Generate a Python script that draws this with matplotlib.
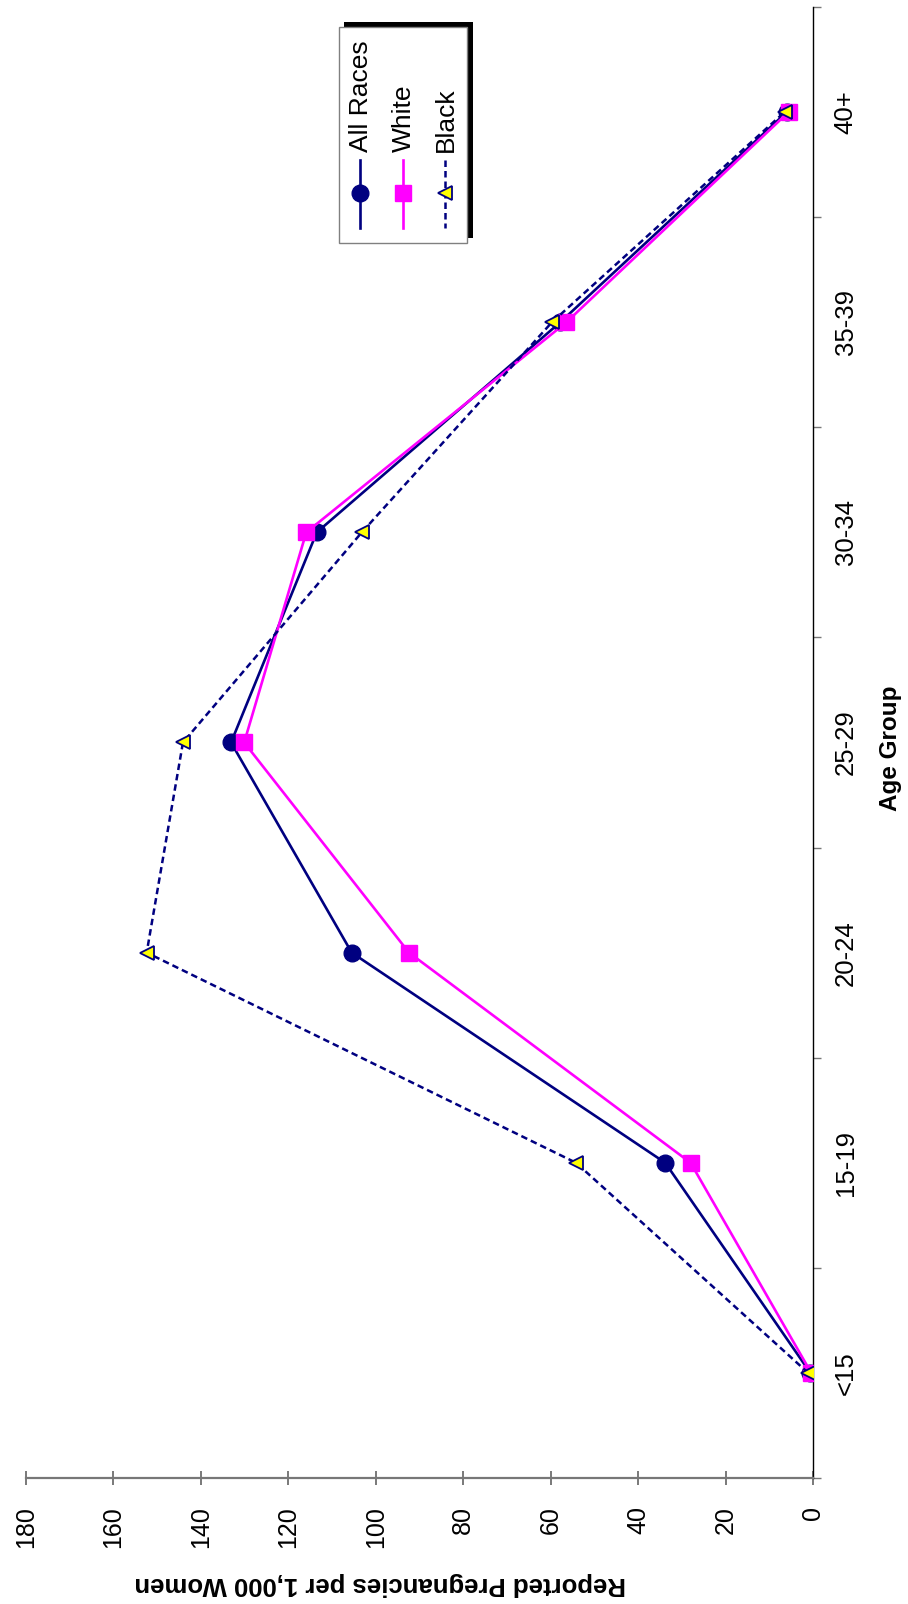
import matplotlib
matplotlib.use("Agg")
import matplotlib.pyplot as plt
from matplotlib.lines import Line2D
from matplotlib.patches import Rectangle

plt.rcParams['font.family'] = ['Liberation Sans', 'DejaVu Sans']

# данные: частота беременностей на 1000 женщин по возрастным группам
age_groups = ['<15', '15-19', '20-24', '25-29', '30-34', '35-39', '40+']
all_races = [0.6, 33.8, 105.5, 133.1, 113.5, 57.8, 6.0]
white = [0.4, 28.0, 92.4, 130.1, 115.9, 56.4, 5.6]
black = [1.1, 54.2, 152.4, 144.1, 103.2, 59.7, 6.5]
value_ticks = list(range(0, 181, 20))

W, H = 908, 1604


def fx(px):
    return px / W


def fy(py):
    return 1 - py / H


fig = plt.figure(figsize=(W / 100, H / 100), dpi=100)
ax = fig.add_axes([fx(26), fy(1478), (813 - 26) / W, (1478 - 7) / H])

pos = list(range(len(age_groups)))
navy = '#000080'
magenta = '#FF00FF'
dash = (0, (2.6, 1.6))

ax.plot(all_races, pos, color=navy, lw=1.9, marker='o', ms=12, mfc=navy, mec=navy, zorder=3)
ax.plot(white, pos, color=magenta, lw=1.9, marker='s', ms=11, mfc=magenta, mec=magenta, zorder=4)
ax.plot(black, pos, color=navy, lw=1.8, ls=dash, marker='<', ms=10,
        mfc='#FFFF00', mec=navy, mew=1.3, zorder=5)

ax.set_xlim(180, 0)
ax.set_ylim(-0.5, len(age_groups) - 0.5)

# оси
for s in ['top', 'left']:
    ax.spines[s].set_visible(False)
ax.spines['right'].set_color('black')
ax.spines['right'].set_linewidth(1.0)
ax.spines['bottom'].set_color('#777777')
ax.spines['bottom'].set_linewidth(1.6)

ax.set_xticks(value_ticks)
ax.set_xticklabels([str(v) for v in value_ticks])
ax.tick_params(axis='x', direction='inout', length=10, width=1.1, color='#555555',
               pad=15, labelsize=18, labelrotation=90)

ax.yaxis.tick_right()
ax.set_yticks(pos)
ax.set_yticklabels(age_groups)
ax.set_yticks([p - 0.5 for p in pos] + [len(pos) - 0.5], minor=True)
ax.tick_params(axis='y', which='major', length=0, pad=15, labelsize=18.5, labelrotation=90)
ax.tick_params(axis='y', which='minor', direction='out', length=6, width=1.0, color='#777777')
for lab in ax.get_yticklabels():
    lab.set_va('center')
    lab.set_ha('left')

fig.text(fx(890), fy(748), 'Age Group', rotation=90, ha='center', va='center',
         fontweight='bold', fontsize=17.5)
fig.text(fx(380), fy(1584), 'Reported Pregnancies per 1,000 Women', rotation=180,
         ha='center', va='center', fontweight='bold', fontsize=18.5)

# легенда вручную (повёрнута)
fig.add_artist(Rectangle((fx(344), fy(238)), (473 - 344) / W, (238 - 22) / H,
                         facecolor='black', edgecolor='none', transform=fig.transFigure))
fig.add_artist(Rectangle((fx(339), fy(243)), (467 - 339) / W, (243 - 27) / H,
                         facecolor='white', edgecolor='#808080', lw=1.0, transform=fig.transFigure))

entries = [
    ('All Races', 360, dict(color=navy, lw=1.9, marker='o', ms=12, mfc=navy, mec=navy)),
    ('White', 403, dict(color=magenta, lw=1.9, marker='s', ms=11, mfc=magenta, mec=magenta)),
    ('Black', 445, dict(color=navy, lw=1.8, ls=dash, marker='<', ms=10,
                        mfc='#FFFF00', mec=navy, mew=1.3)),
]
for label, xp, st in entries:
    st = dict(st)
    mk = {k: st.pop(k) for k in ['marker', 'ms', 'mfc', 'mec', 'mew'] if k in st}
    fig.add_artist(Line2D([fx(xp), fx(xp)], [fy(160), fy(228)], transform=fig.transFigure, **st))
    fig.add_artist(Line2D([fx(xp)], [fy(193)], transform=fig.transFigure, ls='none', **mk))
    fig.text(fx(xp + 1), fy(152), label, rotation=90, ha='center', va='bottom', fontsize=19)

fig.savefig('out.png', dpi=100)
